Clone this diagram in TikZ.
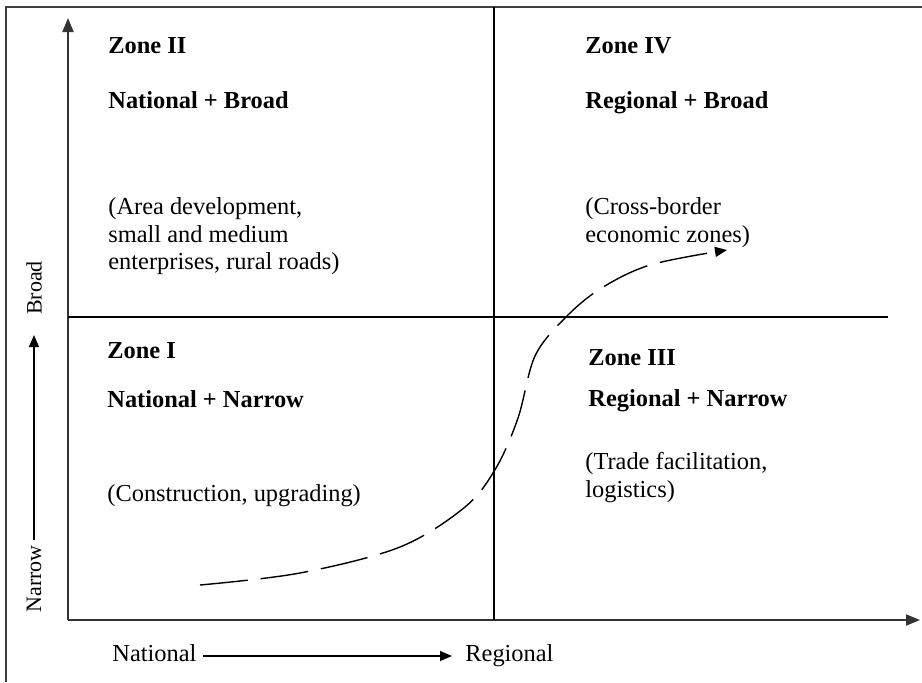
\documentclass[tikz,border=0pt]{standalone}
\usepackage{fontspec}
\setmainfont{Liberation Serif}
\usetikzlibrary{arrows.meta}
\tikzset{
  frame/.style={line width=1pt, draw=black!75},
  axis/.style={line width=1pt, draw=black!80, -{Triangle[length=7pt,width=5.5pt]}},
  divider/.style={line width=0.7pt, draw=black},
  smallarrow/.style={line width=0.6pt, -{Triangle[length=6pt,width=5pt]}},
  trend/.style={line width=0.7pt, dash pattern=on 24pt off 6.5pt, -{Triangle[length=6pt,width=5pt]}},
  zonetxt/.style={anchor=base west, inner sep=0pt, font=\fontsize{12.2}{14}\selectfont\bfseries},
  desctxt/.style={anchor=base west, inner sep=0pt, font=\fontsize{12.2}{14}\selectfont},
  sidetxt/.style={inner sep=0pt, font=\fontsize{11}{13}\selectfont, rotate=90},
}
\begin{document}
\begin{tikzpicture}[x=0.5pt,y=-0.5pt]
\useasboundingbox (0,0) rectangle (922,682);

% outer frame (top and left edges)
\draw[frame] (922,7) -- (6,7) -- (6,682);

% axes
\coordinate (origin) at (68,620);
\coordinate (ytip) at (68,18);
\coordinate (xtip) at (920,620);
\draw[axis] (origin) -- (ytip);
\draw[axis] (origin) -- (xtip);

% quadrant dividers
\coordinate (vtop) at (494,7);
\coordinate (vbot) at (494,620);
\coordinate (hleft) at (68,317);
\coordinate (hright) at (888,317);
\draw[divider] (vtop) -- (vbot);
\draw[divider] (hleft) -- (hright);

% vertical scale label
\node[sidetxt] (narrow) at (34,579) {Narrow};
\node[sidetxt] (broad) at (34,288) {Broad};
\draw[smallarrow] ([yshift=2.5pt]narrow.east) -- (34,335) coordinate (bend);

% horizontal scale label
\node[desctxt] (national) at (112,661) {National};
\node[desctxt] (regional) at (465,661) {Regional};
\draw[smallarrow] ([xshift=3pt,yshift=2.5pt]national.base east) -- (452,656);

% Zone II
\node[zonetxt] (z2) at (108,53) {Zone II};
\node[zonetxt] (z2b) at (108,108) {National + Broad};
\node[desctxt] (z2c) at (108,214) {(Area development,};
\node[desctxt] (z2d) at (108,242) {small and medium};
\node[desctxt] (z2e) at (108,269) {enterprises, rural roads)};

% Zone IV
\node[zonetxt] (z4) at (585,53) {Zone IV};
\node[zonetxt] (z4b) at (585,108) {Regional + Broad};
\node[desctxt] (z4c) at (585,214) {(Cross-border};
\node[desctxt] (z4d) at (585,242) {economic zones)};

% Zone I
\node[zonetxt] (z1) at (107,358) {Zone I};
\node[zonetxt] (z1b) at (107,407) {National + Narrow};
\node[desctxt] (z1c) at (107,501) {(Construction, upgrading)};

% Zone III
\node[zonetxt] (z3) at (588,365) {Zone III};
\node[zonetxt] (z3b) at (588,406) {Regional + Narrow};
\node[desctxt] (z3c) at (585,469) {(Trade facilitation,};
\node[desctxt] (z3d) at (585,497) {logistics)};

% trend from national/narrow towards regional/broad
\coordinate (cstart) at (200,585);
\coordinate (cend) at (727,250);
\draw[trend] plot[smooth, tension=0.55] coordinates
  {(cstart) (300,573) (400,547) (465,507) (496,468) (518,418) (535,356) (565,318) (600,289) (650,265) (cend)};
\end{tikzpicture}
\end{document}
